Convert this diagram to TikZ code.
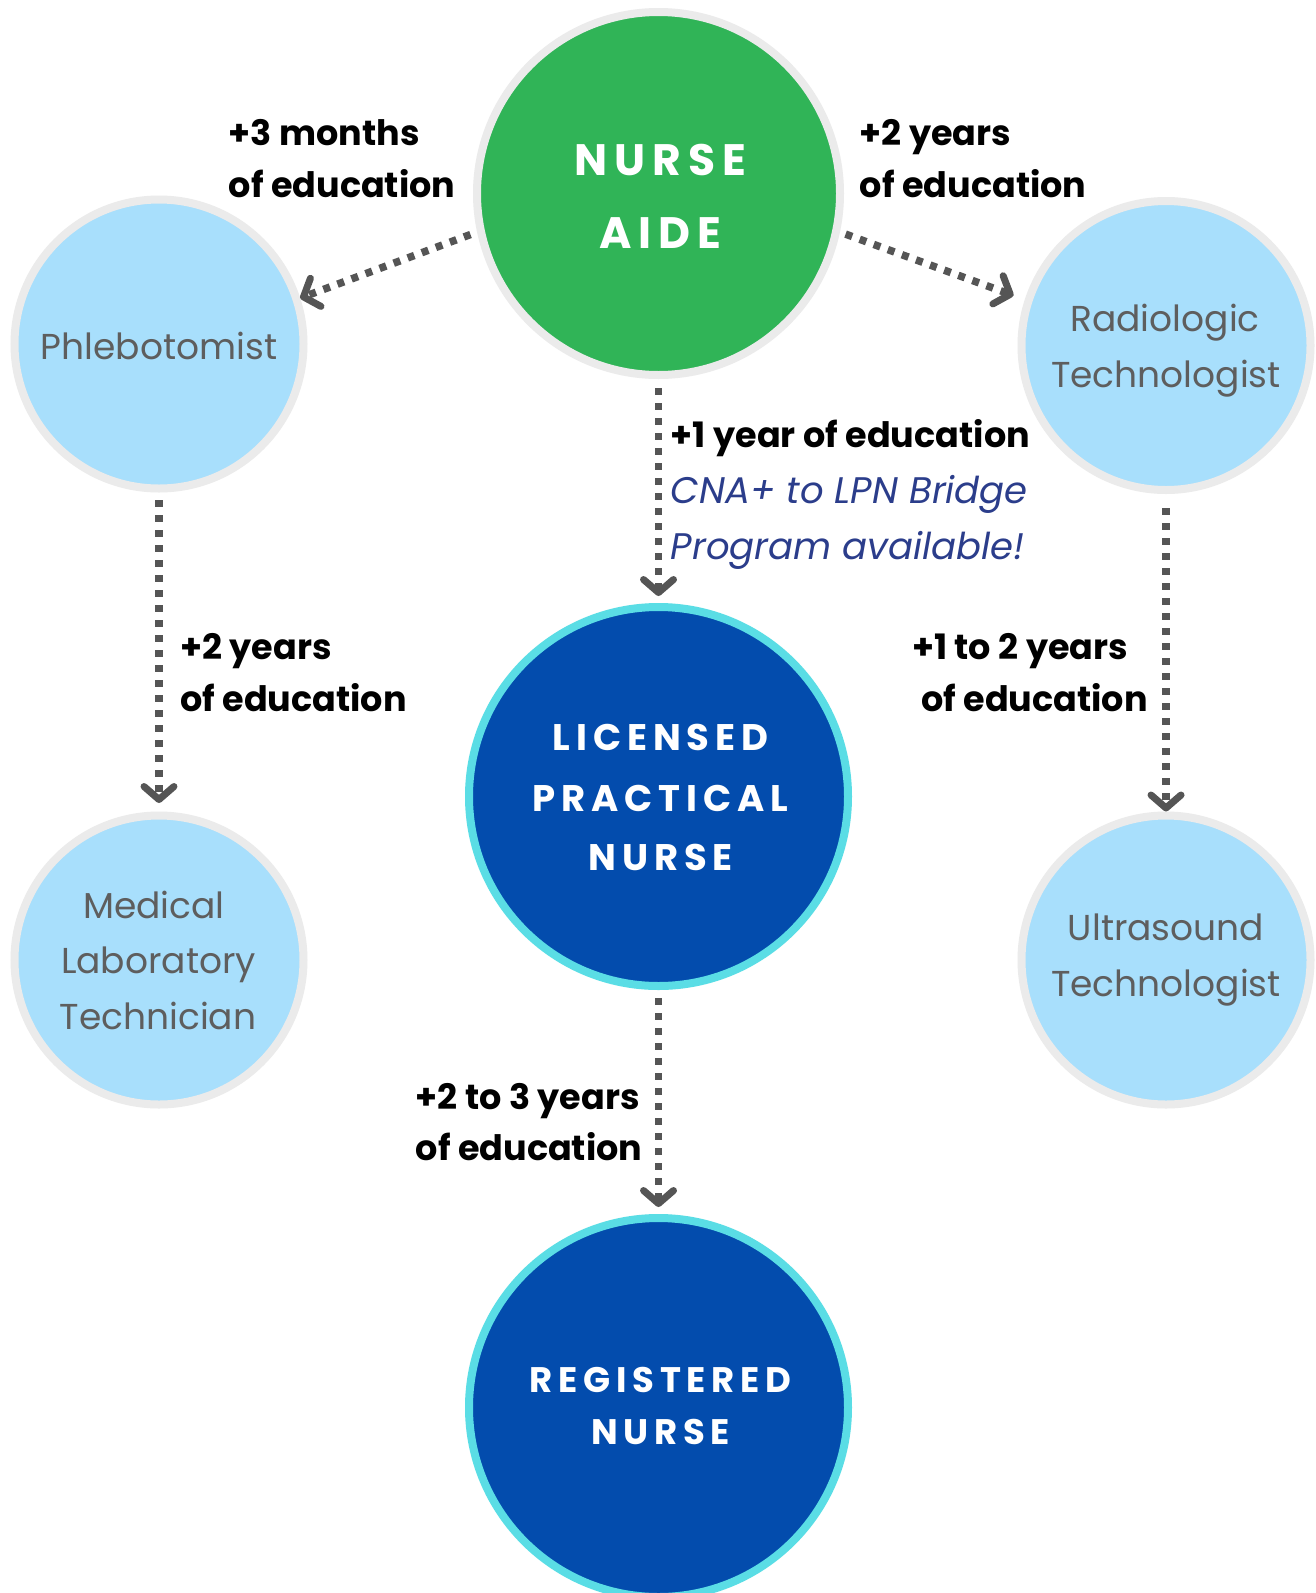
\documentclass[tikz,border=0pt]{standalone}
\usepackage{fontspec}
\setmainfont{Poppins}
\newfontfamily\capfont[LetterSpace=16]{Poppins}
\usetikzlibrary{arrows.meta}
\definecolor{nagreen}{HTML}{30B457}
\definecolor{ringgrey}{HTML}{EBEBEB}
\definecolor{lightblue}{HTML}{A8DFFC}
\definecolor{navyfill}{HTML}{034CAD}
\definecolor{cyanring}{HTML}{5ADDE5}
\definecolor{arrowgrey}{HTML}{555555}
\definecolor{textgrey}{HTML}{5E5E5E}
\definecolor{italicblue}{HTML}{2B3D8B}
\begin{document}
\begin{tikzpicture}[x=1pt,y=-1pt,
  sidecircle/.style={circle, draw=ringgrey, line width=8pt, fill=lightblue, minimum size=289pt, inner sep=0pt},
  greencircle/.style={circle, draw=ringgrey, line width=8pt, fill=nagreen, minimum size=363pt, inner sep=0pt},
  bluecircle/.style={circle, draw=cyanring, line width=8pt, fill=navyfill, minimum size=379pt, inner sep=0pt},
  conn/.style={draw=arrowgrey, line width=7.5pt, dash pattern=on 7pt off 8pt,
    -{Straight Barb[length=13pt,width=30pt,line width=7pt,line cap=round,line join=round]}},
  capsbig/.style={text=white, font=\capfont\bfseries\fontsize{44}{50}\selectfont, anchor=base, inner sep=0pt},
  capsmid/.style={text=white, font=\capfont\bfseries\fontsize{37}{44}\selectfont, anchor=base, inner sep=0pt},
  capsrn/.style={capsmid, font=\capfont\bfseries\fontsize{35.5}{44}\selectfont},
  greytext/.style={text=textgrey, font=\fontsize{36}{44}\selectfont, anchor=base, inner sep=0pt},
  lbl/.style={text=black, font=\bfseries\fontsize{35}{42}\selectfont, anchor=base west, inner sep=0pt},
  itl/.style={text=italicblue, font=\itshape\fontsize{37}{44}\selectfont, anchor=base west, inner sep=0pt}
]
\useasboundingbox[fill=white] (0,0) rectangle (1315,1593);

% circles
\node[greencircle] (na) at (658.5,193.5) {};
\node[sidecircle] (ph) at (159,344) {};
\node[sidecircle] (rl) at (1166,345.5) {};
\node[sidecircle] (ml) at (159,960) {};
\node[sidecircle] (us) at (1166,960) {};
\node[bluecircle] (lpn) at (658.5,796.5) {};
\node[bluecircle] (rn) at (658.5,1407.5) {};

% circle texts
\node[capsbig] (na1) at (660.5,175) {NURSE};
\node[capsbig] (na2) at (660.5,248) {AIDE};
\node[capsmid] (lpn1) at (660.5,750.5) {LICENSED};
\node[capsmid] (lpn2) at (660.5,811) {PRACTICAL};
\node[capsmid] (lpn3) at (660.5,870) {NURSE};
\node[capsrn] (rn1) at (660.5,1392) {REGISTERED};
\node[capsrn] (rn2) at (660.5,1444) {NURSE};
\node[greytext] (ph1) at (159,359) {Phlebotomist};
\node[greytext] (rl1) at (1165,331.5) {Radiologic};
\node[greytext] (rl2) at (1166,387) {Technologist};
\node[greytext] (ml1) at (154,918) {Medical};
\node[greytext] (ml2) at (158.5,973.5) {Laboratory};
\node[greytext] (ml3) at (158,1029.5) {Technician};
\node[greytext] (us1) at (1166,940) {Ultrasound};
\node[greytext] (us2) at (1166,996) {Technologist};

% connectors
\draw[conn, shorten <=7pt] (na.192) -- (ph.18);
\draw[conn, shorten <=6pt, shorten >=12pt] (na.348) -- (rl.162);
\draw[conn, shorten <=9pt, shorten >=7pt] (na.south) -- (lpn.north);
\draw[conn, shorten <=7.5pt, shorten >=8.5pt] (ph.south) -- (ml.north);
\draw[conn, shorten <=14pt, shorten >=0pt] (rl.south) -- (us.north);
\draw[conn, shorten <=8pt, shorten >=7pt] (lpn.south) -- (rn.north);

% labels
\node[lbl] (a1) at (228.6,145) {+3 months};
\node[lbl] (a2) at (228.6,197) {of education};
\node[lbl] (b1) at (859.7,145) {+2 years};
\node[lbl] (b2) at (859.7,197) {of education};
\node[lbl] (c1) at (670.7,447) {+1 year of education};
\node[itl] (c2) at (670.7,503) {CNA+ to LPN Bridge};
\node[itl] (c3) at (670.7,559) {Program available!};
\node[lbl] (d1) at (180,659) {+2 years};
\node[lbl] (d2) at (180,711) {of education};
\node[lbl] (e1) at (912,659) {+1 to 2 years};
\node[lbl] (e2) at (921,711) {of education};
\node[lbl] (f1) at (415.6,1109.5) {+2 to 3 years};
\node[lbl] (f2) at (415.6,1160) {of education};
\end{tikzpicture}
\end{document}
